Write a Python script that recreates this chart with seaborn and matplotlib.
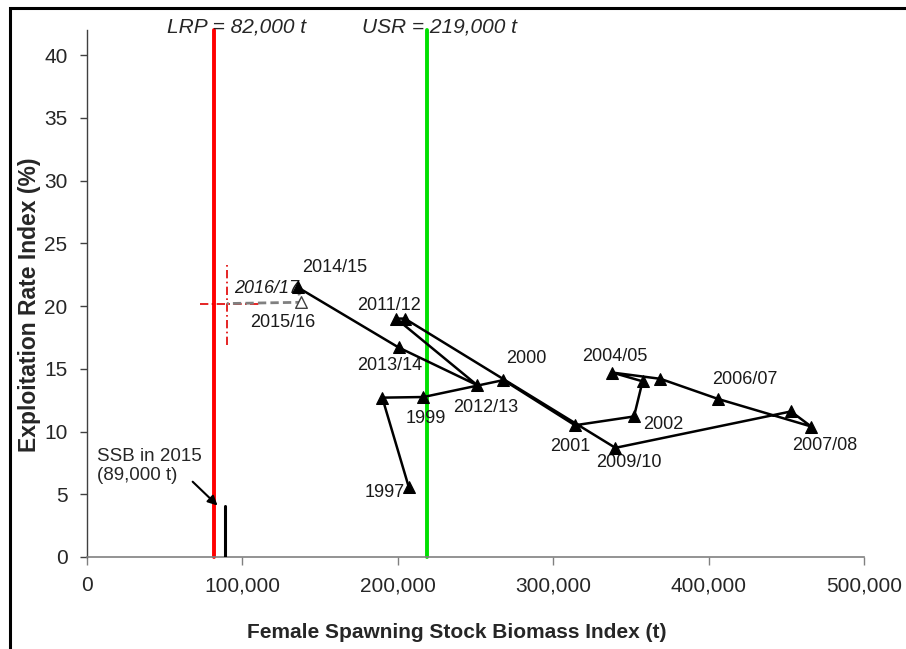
import matplotlib
matplotlib.use("Agg")
import matplotlib.pyplot as plt
import matplotlib.ticker as mticker
from matplotlib.patches import Rectangle
import pandas as pd
import seaborn as sns

# Stock trajectory: female spawning stock biomass (t) vs exploitation rate index (%)
years = ["1997", "1998", "1999", "2000", "2001", "2002", "2003", "2004/05",
         "2005/06", "2006/07", "2007/08", "2008/09", "2009/10", "2010/11",
         "2011/12", "2012/13", "2013/14", "2014/15"]
ssb = [207000, 190000, 216500, 268000, 314000, 352000, 357500, 338000,
       369000, 406000, 466000, 453000, 340000, 204500, 199000, 251000,
       200500, 135500]
exploit = [5.6, 12.7, 12.75, 14.1, 10.5, 11.2, 14.0, 14.7,
           14.2, 12.6, 10.4, 11.6, 8.7, 19.0, 19.0, 13.7, 16.7, 21.5]

# Provisional estimate and projection
prov_year = "2015/16"
prov_ssb = 137600
prov_exploit = 20.3
proj_year = "2016/17"
proj_ssb = 90000
proj_exploit = 20.2
proj_ssb_range = [72700, 111000]
proj_exploit_range = [16.9, 23.5]

# Reference points
lrp = 82000
usr = 219000
ssb_2015 = 89000
ssb_2015_bar = [0, 4.1]

# Which points carry a year label, and the label offset (pixels)
label_offsets = {
    "1997": (-24, -6), "1999": (2, -21), "2000": (23, 22), "2001": (-5, -21),
    "2002": (29, -8), "2004/05": (3, 16), "2006/07": (27, 19),
    "2007/08": (14, -19), "2009/10": (14, -15), "2011/12": (-7, 13),
    "2012/13": (9, -22), "2013/14": (-9, -18), "2014/15": (37, 20),
}

sns.set_style("ticks")
plt.rcParams["font.family"] = ["Liberation Sans", "DejaVu Sans"]

fig = plt.figure(figsize=(9.06, 6.49), dpi=100)
ax = fig.add_axes([87 / 906, 1 - 557 / 649, (864 - 87) / 906, (557 - 30) / 649])

df = pd.DataFrame({"year": years, "ssb": ssb, "exploit": exploit})

# Reference point lines
ax.plot([lrp, lrp], [0, 42], color="#ff0000", lw=2.8, zorder=2, clip_on=False)
ax.plot([usr, usr], [0, 42], color="#00e000", lw=2.8, zorder=2, clip_on=False)

# SSB in 2015 marker bar
ax.plot([ssb_2015, ssb_2015], ssb_2015_bar, color="black", lw=2.2, zorder=3)

# Projection crosshair
ax.plot(proj_ssb_range, [proj_exploit, proj_exploit], color="#e00000",
        lw=1.2, ls=(0, (5, 2, 1, 2)), zorder=3)
ax.plot([proj_ssb, proj_ssb], proj_exploit_range, color="#e00000",
        lw=1.2, ls=(0, (5, 2, 1, 2)), zorder=3)

# Dashed link: last assessed year -> provisional -> projection
ax.plot([ssb[-1], prov_ssb, proj_ssb], [exploit[-1], prov_exploit, proj_exploit],
        color="#808080", lw=2.0, ls=(0, (3, 1.5)), zorder=4)

# Main trajectory
sns.lineplot(data=df, x="ssb", y="exploit", sort=False, estimator=None,
             color="black", lw=1.8, marker="^", markersize=9,
             markeredgecolor="black", ax=ax, zorder=5)

# Provisional point as open triangle
sns.scatterplot(x=[prov_ssb], y=[prov_exploit], marker="^", s=70,
                facecolor="white", edgecolor="#404040", linewidth=1.0,
                ax=ax, zorder=6)

# Year labels
for yr, x, y in zip(years, ssb, exploit):
    if yr in label_offsets:
        dx, dy = label_offsets[yr]
        ax.annotate(yr, xy=(x, y), xytext=(dx, dy), textcoords="offset pixels",
                    ha="center", va="center", fontsize=13, color="#1a1a1a")
ax.annotate(prov_year, xy=(prov_ssb, prov_exploit), xytext=(-18, -20),
            textcoords="offset pixels", ha="center", va="center",
            fontsize=13, color="#1a1a1a")
ax.annotate(proj_year, xy=(proj_ssb, proj_exploit), xytext=(40, 15),
            textcoords="offset pixels", ha="center", va="center",
            fontsize=13, style="italic", color="#1a1a1a")

# Reference labels
ax.text(96500, 42.2, "LRP = 82,000 t", style="italic", fontsize=15,
        ha="center", va="center", clip_on=False)
ax.text(227000, 42.2, "USR = 219,000 t", style="italic", fontsize=15,
        ha="center", va="center", clip_on=False)

# SSB in 2015 callout
ax.annotate("", xy=(84000, 4.1), xytext=(68000, 6.0),
            arrowprops=dict(arrowstyle="-|>", color="black", lw=1.5,
                            mutation_scale=14, shrinkA=0, shrinkB=0))
ax.text(6400, 7.25, "SSB in 2015\n(89,000 t)", fontsize=13.5, ha="left",
        va="center", linespacing=1.15)

# Axes
ax.set_xlim(0, 500000)
ax.set_ylim(0, 42)
ax.set_xticks(range(0, 500001, 100000))
ax.set_yticks(range(0, 41, 5))
ax.xaxis.set_major_formatter(mticker.FuncFormatter(lambda v, p: f"{v:,.0f}"))
ax.tick_params(axis="x", length=6, width=1, color="#808080", pad=8, labelsize=15)
ax.tick_params(axis="y", length=5, width=1, color="#404040", pad=9, labelsize=15)
for s in ["top", "right"]:
    ax.spines[s].set_visible(False)
ax.spines["bottom"].set_color("#808080")
ax.spines["left"].set_color("#404040")
ax.spines["bottom"].set_linewidth(1.2)
ax.spines["left"].set_linewidth(1.0)
ax.set_xlabel("")
ax.set_ylabel("")

fig.text(457 / 906, 1 - 632 / 649, "Female Spawning Stock Biomass Index (t)",
         fontsize=15, fontweight="bold", ha="center", va="center")
fig.text(30 / 906, 1 - 305 / 649, "Exploitation Rate Index (%)",
         fontsize=16.5, fontweight="bold", ha="center", va="center", rotation=90)

# Frame around the figure
fig.patches.append(Rectangle((9.5 / 906, -0.1), 1.2, 1.1 - 8 / 649,
                             transform=fig.transFigure, fill=False,
                             edgecolor="black", lw=2.2))

fig.savefig("out.png", dpi=100)
